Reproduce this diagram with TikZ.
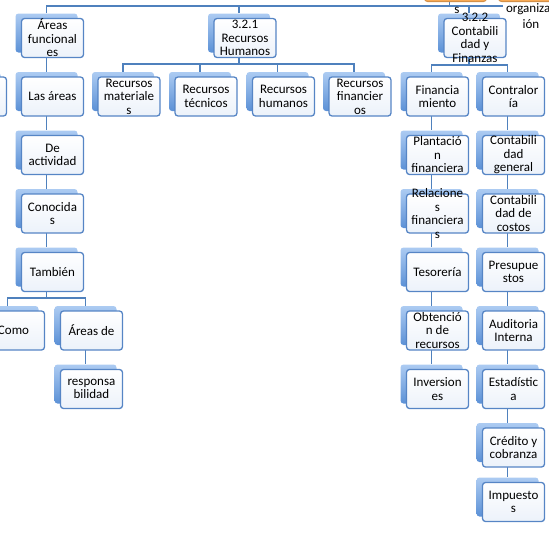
\documentclass[tikz,border=0pt]{standalone}
\usepackage{fontspec}
\setmainfont{Carlito}
\definecolor{linea}{RGB}{79,129,189}
\definecolor{borde}{RGB}{86,133,197}
\definecolor{claro}{RGB}{236,242,250}
\definecolor{sombraA}{RGB}{172,203,242}
\definecolor{sombraB}{RGB}{92,145,214}
\definecolor{naranja}{RGB}{248,170,85}
\pgfdeclarelayer{conectores}
\pgfsetlayers{conectores,main}
\begin{document}
\begin{tikzpicture}[x=1pt,y=-1pt, line join=round, line cap=round,
	caja/.style={rectangle, rounded corners=3pt, draw=borde, line width=1.3pt, top color=white, bottom color=claro, minimum width=62pt, minimum height=39pt, inner sep=0pt},
	sombra/.style={rectangle, rounded corners=3pt, top color=sombraA, bottom color=sombraB, minimum width=62pt, minimum height=39pt, inner sep=0pt},
	naranjo/.style={rectangle, rounded corners=3pt, fill=naranja, draw=naranja!85!black, line width=1pt, minimum width=62pt, minimum height=39pt, inner sep=0pt},
	texto/.style={align=center, font=\fontsize{13}{13.5}\selectfont, inner sep=0pt},
	conector/.style={draw=linea, line width=1.3pt}]
	\useasboundingbox (0,0) rectangle (549,533);
	\clip (0,0) rectangle (549,533);
	% cajas de arriba (cortadas)
	\node[naranjo] (or1-b) at (449.5,-24) {};
	\node[naranjo] (or1) at (455.5,-18) {};
	\node[naranjo] (or2) at (529.5,-18) {};
	\node[texto] (or1-t) at (457,10) {s};
	\node[texto] (or2-t) at (531,16) {organizac\\[3pt]ión};
	% cajas: nombre/x/y(arriba)/texto
	\foreach \n/\x/\y/\t in {
		af/52.5/18/{Áreas\\funcional\\es},
		la/52.5/76.5/{Las áreas},
		da/52.5/135/{De\\actividad},
		co/52.5/193.5/{Conocida\\s},
		ta/52.5/252/{También},
		cm/13.5/310.5/{Como},
		ad/91.5/310.5/{Áreas de},
		re/91.5/369/{responsa\\bilidad},
		iz/-24.5/76.5/{},
		rh/245/18/{3.2.1\\Recursos\\Humanos},
		rm/129/76.5/{Recursos\\materiale\\s},
		rt/206/76.5/{Recursos\\técnicos},
		rhu/283.5/76.5/{Recursos\\humanos},
		rf/360/76.5/{Recursos\\financier\\os},
		cf/475/18/{3.2.2\\Contabili\\dad y\\Finanzas},
		fi/437.5/76.5/{Financia\\miento},
		pf/437.5/135/{Plantació\\n\\financiera},
		rfi/437.5/193.5/{Relacione\\s\\financiera\\s},
		te/437.5/252/{Tesorería},
		ob/437.5/310.5/{Obtenció\\n de\\recursos},
		inv/437.5/369/{Inversion\\es},
		ct/513.5/76.5/{Contralor\\ía},
		cg/513.5/135/{Contabili\\dad\\general},
		cc/513.5/193.5/{Contabili\\dad de\\costos},
		pr/513.5/252/{Presupue\\stos},
		ai/513.5/310.5/{Auditoria\\Interna},
		es/513.5/369/{Estadístic\\a},
		cy/513.5/427.5/{Crédito y\\cobranza},
		im/513.5/482/{Impuesto\\s}}
	{
		\node[sombra] (\n-b) at (\x-6,\y+15) {};
		\node[caja] (\n) at (\x,\y+20) {};
		\node[texto] (\n-t) at (\n) {\t};
	}
	% conectores
	\begin{pgfonlayer}{conectores}
		\coordinate (barra) at (0,6);
		\coordinate (finbarra) at (503,6);
		\coordinate (barrarh) at (0,64);
		\coordinate (barracf) at (0,65);
		\coordinate (barrata) at (0,298);
		\draw[conector] (af-b.north) |- (finbarra);
		\draw[conector] (or1-b.south) -- (or1-b.south |- barra);
		\draw[conector] (rh-b.north) -- (rh-b.north |- barra);
		\draw[conector] (cf-b.north) -- (cf-b.north |- barra);
		\foreach \h in {rm,rt,rhu,rf}
			\draw[conector] (rh-b.south) -- (rh-b.south |- barrarh) -| (\h-b.north);
		\foreach \h in {fi,ct}
			\draw[conector] (cf-b.south) -- (cf-b.south |- barracf) -| (\h-b.north);
		\foreach \h in {cm,ad}
			\draw[conector] (ta-b.south) -- (ta-b.south |- barrata) -| (\h-b.north);
		\foreach \a/\b in {af/la,la/da,da/co,co/ta,ad/re,fi/pf,pf/rfi,rfi/te,te/ob,ob/inv,ct/cg,cg/cc,cc/pr,pr/ai,ai/es,es/cy,cy/im}
			\draw[conector] (\a-b.south) -- (\b-b.north);
	\end{pgfonlayer}
\end{tikzpicture}
\end{document}
